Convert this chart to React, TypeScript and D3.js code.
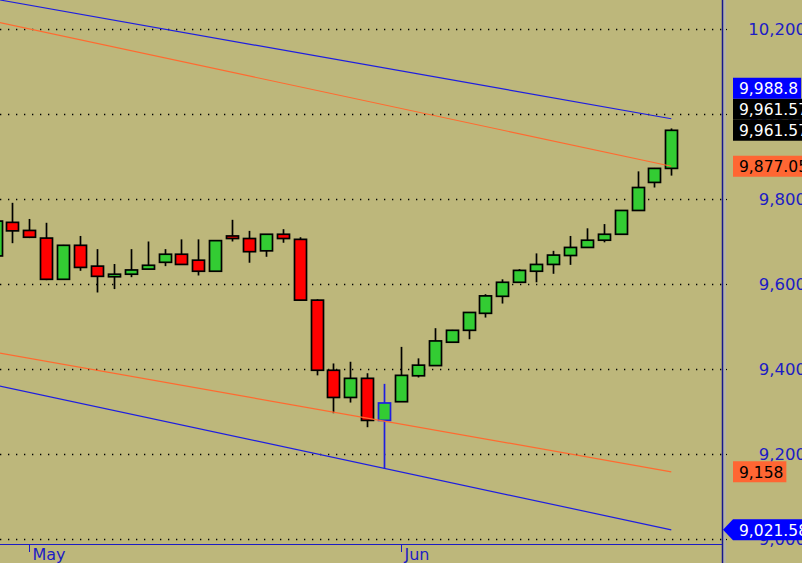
import React from "react";
import * as d3 from "d3";

// trading days shown (first one is only partly visible at the left edge)
const dates = [
  "2019-04-29", "2019-04-30", "2019-05-01", "2019-05-02", "2019-05-03",
  "2019-05-06", "2019-05-07", "2019-05-08", "2019-05-09", "2019-05-10",
  "2019-05-13", "2019-05-14", "2019-05-15", "2019-05-16", "2019-05-17",
  "2019-05-20", "2019-05-21", "2019-05-22", "2019-05-23", "2019-05-24",
  "2019-05-28", "2019-05-29", "2019-05-30", "2019-05-31", "2019-06-03",
  "2019-06-04", "2019-06-05", "2019-06-06", "2019-06-07", "2019-06-10",
  "2019-06-11", "2019-06-12", "2019-06-13", "2019-06-14", "2019-06-17",
  "2019-06-18", "2019-06-19", "2019-06-20", "2019-06-21", "2019-06-24",
  "2019-06-25",
];

const opens = [
  9666, 9745, 9726, 9708, 9611, 9691, 9642, 9617, 9623, 9635,
  9651, 9670, 9656, 9630, 9713, 9707, 9678, 9717, 9705, 9562,
  9397, 9333, 9378, 9279, 9323, 9384, 9408, 9463, 9491, 9531,
  9571, 9604, 9630, 9646, 9667, 9686, 9703, 9717, 9773, 9839,
  9872,
];
const highs = [
  9755, 9791, 9753, 9744, 9692, 9713, 9682, 9647, 9682, 9700,
  9682, 9705, 9705, 9703, 9751, 9725, 9717, 9729, 9710, 9564,
  9413, 9417, 9390, 9365, 9452, 9425, 9496, 9492, 9534, 9576,
  9611, 9635, 9672, 9678, 9713, 9731, 9741, 9774, 9865, 9873,
  9966,
];
const lows = [
  9655, 9696, 9708, 9609, 9610, 9631, 9580, 9588, 9616, 9635,
  9642, 9646, 9620, 9630, 9700, 9650, 9664, 9697, 9561, 9385,
  9296, 9321, 9263, 9166, 9323, 9380, 9408, 9462, 9470, 9521,
  9554, 9604, 9604, 9624, 9645, 9686, 9698, 9717, 9773, 9827,
  9855,
];
const closes = [
  9748, 9725, 9710, 9611, 9691, 9639, 9618, 9623, 9633, 9644,
  9670, 9646, 9630, 9702, 9707, 9676, 9717, 9707, 9562, 9397,
  9333, 9378, 9279, 9320, 9385, 9409, 9466, 9491, 9533, 9572,
  9604, 9632, 9646, 9668, 9686, 9703, 9717, 9773, 9827, 9872,
  9961.57,
];

const selectedDate = "2019-05-31";

// channel lines: value at first date, value at last date
const upperBlue = [10270, 9988.8];
const lowerOrange = [9439, 9158];
const upperOrange = [10217, 9877.05];
const lowerBlue = [9362, 9021.58];

const priceTicks = [9000, 9200, 9400, 9600, 9800, 10000, 10200];

const W = 802;
const H = 563;
const plotRight = 722;
const plotBottom = 544;

const BG = "#BDB77B";
const AXIS_BLUE = "#1c1cc4";
const LINE_BLUE = "#1e1ee0";
const LINE_ORANGE = "#ff6a30";
const LABEL_ORANGE = "#ff6633";
const GREEN = "#33cc33";
const RED = "#ff0000";

const FONT = "'DejaVu Sans', Verdana, sans-serif";

const textWidth = (s: string, size: number) =>
  s.split("").reduce((w, c) => w + (/[0-9]/.test(c) ? 0.636 : 0.318), 0) * size;

export default function App() {
  const x = d3.scalePoint<string>().domain(dates).range([-4.4, 671.3]);
  const y = d3.scaleLinear().domain([8988.2, 10268.2]).range([plotBottom, 0]);
  const bodyW = 12;
  const fmt = d3.format(",");
  const parse = d3.timeParse("%Y-%m-%d");
  const monthFmt = d3.timeFormat("%b");

  const first = dates[0];
  const last = dates[dates.length - 1];
  const line = d3
    .line<[string, number]>()
    .x((d) => x(d[0]) as number)
    .y((d) => y(d[1]));

  const channels = [
    { v: upperBlue, color: LINE_BLUE },
    { v: lowerBlue, color: LINE_BLUE },
    { v: upperOrange, color: LINE_ORANGE },
    { v: lowerOrange, color: LINE_ORANGE },
  ];

  const monthTicks = dates.filter(
    (d, i) => i > 0 && d.slice(5, 7) !== dates[i - 1].slice(5, 7)
  );

  // right-hand value labels, stacked so they do not overlap
  const lastClose = closes[closes.length - 1];
  const rawLabels = [
    { value: upperBlue[1], fill: "#0000ff", color: "#fff", arrow: false },
    { value: lastClose, fill: "#000", color: "#fff", arrow: false },
    { value: lastClose, fill: "#000", color: "#fff", arrow: false },
    { value: upperOrange[1], fill: LABEL_ORANGE, color: "#000", arrow: false },
    { value: lowerOrange[1], fill: LABEL_ORANGE, color: "#000", arrow: false },
    { value: lowerBlue[1], fill: "#0000ff", color: "#fff", arrow: true },
  ];
  const labelH = 21;
  const placed: { y: number; l: (typeof rawLabels)[number] }[] = [];
  let prevY = Infinity;
  [...rawLabels]
    .sort((a, b) => a.value - b.value)
    .forEach((l) => {
      const ly = Math.min(y(l.value), prevY - labelH);
      placed.push({ y: ly, l });
      prevY = ly;
    });

  return (
    <svg
      width={W}
      height={H}
      style={{ position: "fixed", left: 0, top: 0, display: "block" }}
      fontFamily={FONT}
    >
      <defs>
        <clipPath id="plot">
          <rect x={0} y={0} width={plotRight} height={plotBottom} />
        </clipPath>
      </defs>
      <rect x={0} y={0} width={W} height={H} fill={BG} />

      {/* grid */}
      {priceTicks.map((t) => (
        <g key={t}>
          <line
            x1={0}
            x2={plotRight}
            y1={Math.round(y(t)) + 0.5}
            y2={Math.round(y(t)) + 0.5}
            stroke="#000"
            strokeWidth={1.3}
            strokeDasharray="1.3 6.7"
          />
          <line
            x1={plotRight}
            x2={plotRight + 5}
            y1={Math.round(y(t)) + 0.5}
            y2={Math.round(y(t)) + 0.5}
            stroke="#000"
            strokeWidth={1.2}
          />
        </g>
      ))}

      <g clipPath="url(#plot)">
        {/* candles */}
        {dates.map((d, i) => {
          const cx = Math.round(x(d) as number) + 0.5;
          const o = opens[i];
          const c = closes[i];
          const up = c >= o;
          const sel = d === selectedDate;
          const stroke = sel ? "#1e1ee0" : "#000";
          const top = y(Math.max(o, c));
          const bot = y(Math.min(o, c));
          return (
            <g key={d}>
              <line
                x1={cx}
                x2={cx}
                y1={y(highs[i])}
                y2={y(lows[i])}
                stroke={stroke}
                strokeWidth={1.7}
              />
              <rect
                x={cx - bodyW / 2}
                y={top}
                width={bodyW}
                height={Math.max(bot - top, 1.5)}
                fill={up ? GREEN : RED}
                stroke={stroke}
                strokeWidth={1.7}
              />
            </g>
          );
        })}

        {/* channels */}
        {channels.map((ch, i) => (
          <path
            key={i}
            d={
              line([
                [first, ch.v[0]],
                [last, ch.v[1]],
              ]) as string
            }
            fill="none"
            stroke={ch.color}
            strokeWidth={1.2}
          />
        ))}
      </g>

      {/* axes */}
      <rect x={plotRight + 1} y={0} width={3} height={H} fill="#b3b3a3" />
      <line x1={plotRight + 0.5} x2={plotRight + 0.5} y1={0} y2={H} stroke="#16168c" strokeWidth={1.5} />
      <line x1={0} x2={plotRight} y1={plotBottom + 0.5} y2={plotBottom + 0.5} stroke={AXIS_BLUE} strokeWidth={1.2} />

      {priceTicks.map((t) => (
        <text
          key={t}
          x={806}
          y={y(t) + 6.5}
          textAnchor="end"
          fontSize={16.5}
          fill={AXIS_BLUE}
        >
          {fmt(t)}
        </text>
      ))}

      {monthTicks.map((d) => {
        const mx = Math.round(x(d) as number) + 0.5;
        return (
          <g key={d}>
            <line x1={mx} x2={mx} y1={plotBottom + 1} y2={plotBottom + 8} stroke={AXIS_BLUE} strokeWidth={1} />
            <text x={mx + 3} y={560} fontSize={16} fill={AXIS_BLUE}>
              {monthFmt(parse(d) as Date)}
            </text>
          </g>
        );
      })}

      {/* value labels */}
      {placed.map(({ y: ly, l }, i) => {
        const txt = fmt(l.value);
        const x0 = 733;
        const w = 6 + textWidth(txt, 15.5) + 3;
        const shape = l.arrow
          ? `M${plotRight + 1},${ly} L${x0},${ly - labelH / 2} L${x0 + w},${ly - labelH / 2} L${x0 + w},${ly + labelH / 2} L${x0},${ly + labelH / 2} Z`
          : `M${x0},${ly - labelH / 2} H${x0 + w} V${ly + labelH / 2} H${x0} Z`;
        return (
          <g key={i}>
            <path d={shape} fill={l.fill} />
            <text x={x0 + 6} y={ly + 5.7} fontSize={15.5} fill={l.color}>
              {txt}
            </text>
          </g>
        );
      })}
    </svg>
  );
}
